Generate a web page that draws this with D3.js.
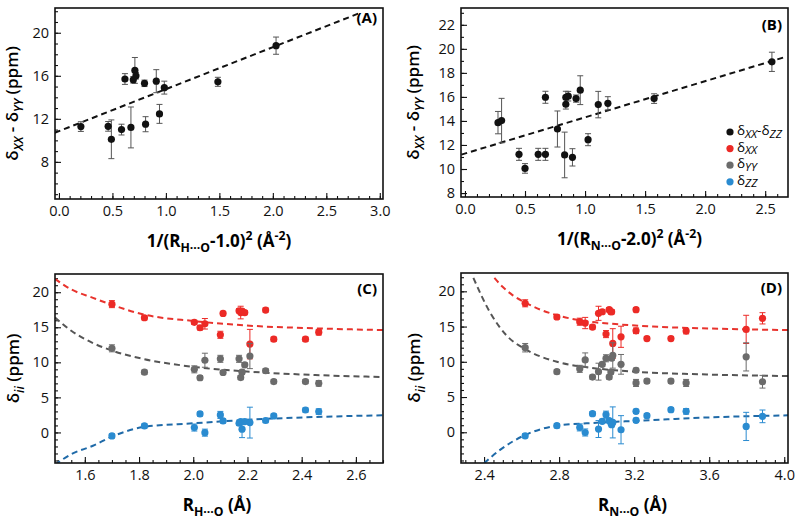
<!DOCTYPE html>
<html>
<head>
<meta charset="utf-8">
<script src="https://cdn.jsdelivr.net/npm/d3@7"></script>
<style>
  body { margin: 0; background: #fff; }
  svg { font-family: "Open Sans", sans-serif; }
</style>
</head>
<body>
<div id="chart"></div>
<script>
// ---- panel A : dXX - dYY vs 1/(R(H..O)-1.0)^2
const aX   = [0.205, 0.46, 0.49, 0.585, 0.617, 0.673, 0.695, 0.71, 0.72, 0.80, 0.81, 0.91, 0.94, 0.985, 1.486, 2.03];
const aY   = [11.28, 11.3, 10.1, 11.0, 15.7, 11.2, 15.63, 16.5, 16.0, 15.3, 11.5, 15.5, 12.46, 14.9, 15.44, 18.8];
const aErr = [0.45, 0.45, 1.8, 0.5, 0.5, 1.9, 0.3, 1.2, 0.3, 0.3, 0.7, 1.07, 0.88, 0.6, 0.42, 0.8];
const aFitX = [-0.04, 2.83];
const aFitY = [10.7, 21.9];

// ---- panel B : dXX - dYY vs 1/(R(N..O)-2.0)^2
const bX   = [0.275, 0.305, 0.45, 0.50, 0.61, 0.67, 0.67, 0.77, 0.83, 0.84, 0.84, 0.86, 0.895, 0.925, 0.96, 1.025, 1.11, 1.19, 1.575, 2.556];
const bY   = [13.86, 14.03, 11.22, 10.05, 11.22, 11.22, 15.97, 13.33, 11.17, 15.39, 15.97, 16.06, 10.97, 15.86, 16.56, 12.44, 15.36, 15.47, 15.86, 18.92];
const bErr = [0.93, 1.85, 0.5, 0.4, 0.5, 0.5, 0.5, 1.5, 1.9, 0.4, 0.5, 0.4, 0.72, 0.3, 1.2, 0.5, 1.1, 0.55, 0.4, 0.8];
const bFitX = [-0.03, 2.66];
const bFitY = [11.2, 19.3];

// ---- panel C : dii vs R(H..O)
const cX       = [1.70, 1.82, 2.004, 2.025, 2.043, 2.10, 2.11, 2.169, 2.175, 2.18, 2.19, 2.209, 2.267, 2.297, 2.414, 2.463];
const cXX      = [18.3, 16.36, 15.7, 14.93, 15.5, 13.93, 16.97, 17.36, 17.1, 17.3, 17.1, 12.6, 17.46, 13.3, 13.3, 14.3];
const cXXErr   = [0.5, 0.3, 0.3, 0.3, 0.75, 0.5, 0.3, 0.3, 0.9, 0.3, 0.3, 2.1, 0.3, 0.3, 0.3, 0.4];
const cYY      = [12.0, 8.6, 9.0, 7.8, 10.3, 10.5, 8.55, 10.5, 7.83, 8.6, 9.64, 10.9, 8.8, 7.26, 7.26, 7.0];
const cYYErr   = [0.5, 0.3, 0.5, 0.3, 1.0, 0.5, 0.3, 0.5, 0.3, 0.3, 0.3, 1.8, 0.3, 0.3, 0.3, 0.4];
const cZZ      = [-0.5, 0.93, 0.7, 2.64, -0.03, 2.5, 1.64, 1.31, 1.55, 0.46, 1.55, 1.4, 1.7, 2.36, 3.2, 2.97];
const cZZErr   = [0.3, 0.3, 0.5, 0.3, 0.5, 0.5, 0.3, 0.3, 0.3, 1.2, 0.3, 2.2, 0.3, 0.3, 0.3, 0.4];
const cFitX    = [1.49, 1.55, 1.63, 1.70, 1.82, 2.0, 2.22, 2.45, 2.70];
const cXXFit   = [21.9, 20.4, 19.2, 18.2, 16.8, 15.9, 15.2, 14.85, 14.6];
const cYYFit   = [16.4, 14.5, 12.75, 11.68, 10.45, 9.36, 8.63, 8.19, 7.9];
const cZZFit   = [-4.6, -3.1, -1.9, -0.6, 0.8, 1.3, 1.85, 2.2, 2.45];

// ---- panel D : dii vs R(N..O)
const dX       = [2.619, 2.788, 2.91, 2.939, 2.978, 3.01, 3.03, 3.05, 3.067, 3.076, 3.08, 3.086, 3.13, 3.21, 3.21, 3.268, 3.396, 3.477, 3.797, 3.884];
const dXX      = [18.3, 16.36, 15.69, 15.5, 14.93, 16.88, 17.1, 13.93, 17.4, 17.1, 17.1, 12.6, 13.55, 17.4, 14.4, 13.3, 13.3, 14.36, 14.6, 16.17];
const dXXErr   = [0.5, 0.3, 0.5, 0.8, 0.3, 1.0, 0.3, 0.5, 0.3, 0.3, 0.3, 2.1, 1.5, 0.3, 0.4, 0.3, 0.3, 0.4, 2.0, 0.8];
const dYY      = [12.0, 8.6, 9.0, 10.26, 7.83, 8.6, 9.64, 10.5, 7.83, 8.55, 10.5, 10.9, 9.64, 8.8, 7.0, 7.26, 7.26, 7.0, 10.7, 7.17];
const dYYErr   = [0.6, 0.3, 0.5, 1.0, 0.3, 1.2, 0.3, 0.5, 0.3, 0.3, 0.3, 1.8, 1.4, 0.3, 0.5, 0.3, 0.3, 0.5, 2.0, 0.9];
const dZZ      = [-0.5, 0.93, 0.69, -0.03, 2.64, 0.46, 1.55, 2.5, 1.64, 1.31, 1.07, 1.4, 0.36, 1.7, 2.97, 2.36, 3.2, 2.97, 0.83, 2.26];
const dZZErr   = [0.3, 0.3, 0.5, 0.5, 0.3, 1.2, 0.3, 0.5, 0.3, 0.3, 0.3, 2.2, 2.0, 0.3, 0.3, 0.3, 0.3, 0.4, 2.0, 0.9];
const dXXFitX  = [2.455, 2.50, 2.55, 2.62, 2.70, 2.79, 2.93, 3.10, 3.30, 3.60, 4.02];
const dXXFit   = [21.9, 20.6, 19.5, 18.4, 17.4, 16.6, 15.8, 15.35, 15.0, 14.73, 14.5];
const dYYFitX  = [2.343, 2.432, 2.521, 2.619, 2.788, 2.965, 3.232, 3.588, 4.02];
const dYYFit   = [21.9, 17.0, 13.7, 11.8, 10.0, 9.17, 8.55, 8.2, 7.97];
const dZZFitX  = [2.40, 2.485, 2.61, 2.788, 3.0, 3.232, 3.588, 4.02];
const dZZFit   = [-4.4, -2.5, -0.5, 0.93, 1.35, 1.64, 2.1, 2.4];

const legendLabels = ["XX-ZZ", "XX", "YY", "ZZ"];

const RED = "#ec2a26", GRAY = "#6b6b6b", BLUE = "#2a8bd0";
const RED_FIT = "#e8332d", GRAY_FIT = "#555555", BLUE_FIT = "#1f6aa8";

const svg = d3.select("#chart").append("svg")
    .attr("width", 800)
    .attr("height", 525);

// writes text made of parts: {t, s:'sub'|'sup', i:italic}
function richText(sel, parts, subShift = 5, subSize = "0.72em") {
    let shift = 0;
    parts.forEach(p => {
        const target = p.s === "sub" ? subShift : p.s === "sup" ? -7 : 0;
        const ts = sel.append("tspan").text(p.t).attr("dy", target - shift);
        shift = target;
        if (p.s) ts.attr("font-size", subSize);
        if (p.i) ts.attr("font-style", "italic");
    });
}

let clipId = 0;
function panel(o) {
    const x = d3.scaleLinear().domain(o.xDom).range([o.l, o.r]);
    const y = d3.scaleLinear().domain(o.yDom).range([o.b, o.t]);
    const g = svg.append("g");

    const cid = "clip" + (clipId++);
    g.append("clipPath").attr("id", cid)
        .append("rect").attr("x", o.l).attr("y", o.t)
        .attr("width", o.r - o.l).attr("height", o.b - o.t);

    // axes, ticks pointing inward
    const xMinor = g.append("g").attr("transform", `translate(0,${o.b})`)
        .call(d3.axisBottom(x).tickValues(o.xMinor).tickSizeInner(-3).tickSizeOuter(0).tickFormat(""));
    const yMinor = g.append("g").attr("transform", `translate(${o.l},0)`)
        .call(d3.axisLeft(y).tickValues(o.yMinor).tickSizeInner(-3).tickSizeOuter(0).tickFormat(""));
    const xAx = g.append("g").attr("transform", `translate(0,${o.b})`)
        .call(d3.axisBottom(x).tickValues(o.xTicks).tickSizeInner(-6).tickSizeOuter(0)
            .tickPadding(7).tickFormat(d3.format(".1f")));
    const yAx = g.append("g").attr("transform", `translate(${o.l},0)`)
        .call(d3.axisLeft(y).tickValues(o.yTicks).tickSizeInner(-6).tickSizeOuter(0)
            .tickPadding(6).tickFormat(d3.format("d")));
    [xMinor, yMinor, xAx, yAx].forEach(a => {
        a.select(".domain").remove();
        a.selectAll("line").attr("stroke", "#111").attr("stroke-width", 1.1);
        a.selectAll("text").attr("font-size", 14.5).attr("fill", "#111")
            .attr("font-family", "'Open Sans', sans-serif");
    });

    const plot = g.append("g").attr("clip-path", `url(#${cid})`);

    // dashed fits
    o.fits.forEach(f => {
        const pts = f.xs.map((v, i) => [v, f.ys[i]]);
        plot.append("path")
            .attr("d", d3.line().x(d => x(d[0])).y(d => y(d[1])).curve(d3.curveMonotoneX)(pts))
            .attr("fill", "none")
            .attr("stroke", f.color)
            .attr("stroke-width", 2)
            .attr("stroke-dasharray", "6,4");
    });

    // error bars + points
    o.series.forEach(s => {
        const eg = plot.append("g").attr("stroke", s.errColor).attr("stroke-width", 1);
        s.xs.forEach((v, i) => {
            const cx = x(v), y1 = y(s.ys[i] - s.errs[i]), y2 = y(s.ys[i] + s.errs[i]);
            eg.append("line").attr("x1", cx).attr("x2", cx).attr("y1", y1).attr("y2", y2);
            eg.append("line").attr("x1", cx - 3).attr("x2", cx + 3).attr("y1", y1).attr("y2", y1);
            eg.append("line").attr("x1", cx - 3).attr("x2", cx + 3).attr("y1", y2).attr("y2", y2);
        });
        plot.append("g").selectAll("circle")
            .data(s.xs.map((v, i) => [v, s.ys[i]]))
            .enter()
            .append("circle")
            .attr("cx", d => x(d[0]))
            .attr("cy", d => y(d[1]))
            .attr("r", 3.6)
            .attr("fill", s.color);
    });

    // frame
    g.append("rect").attr("x", o.l).attr("y", o.t)
        .attr("width", o.r - o.l).attr("height", o.b - o.t)
        .attr("fill", "none").attr("stroke", "#111").attr("stroke-width", 1.6);

    // panel tag
    g.append("text").attr("x", o.r - 6).attr("y", o.t + o.tagDy)
        .attr("text-anchor", "end").attr("font-weight", "bold").attr("font-size", 15)
        .text(o.tag);

    // x title
    const xt = g.append("text").attr("x", (o.l + o.r) / 2 + o.xTitleDx).attr("y", o.b + 48)
        .attr("text-anchor", "middle").attr("font-weight", "bold").attr("font-size", 17);
    richText(xt, o.xTitle);

    // y title
    const yt = g.append("text")
        .attr("transform", `translate(${o.l - o.yTitleOff},${(o.t + o.b) / 2}) rotate(-90)`)
        .attr("text-anchor", "middle").attr("font-weight", 600).attr("font-size", 17);
    richText(yt, o.yTitle);

    return {x, y, g};
}

const yTitleAB = [{t: "δ"}, {t: "XX", s: "sub", i: true}, {t: " - δ"}, {t: "YY", s: "sub", i: true}, {t: " (ppm)"}];
const yTitleCD = [{t: "δ"}, {t: "ii", s: "sub", i: true}, {t: " (ppm)"}];

panel({
    l: 55, r: 383, t: 8, b: 199,
    xDom: [-0.037, 3.03], yDom: [4.55, 22.3],
    xTicks: d3.range(0, 3.01, 0.5), xMinor: d3.range(0, 3.01, 0.1),
    yTicks: [8, 12, 16, 20], yMinor: d3.range(5, 22.1, 1),
    fits: [{xs: aFitX, ys: aFitY, color: "#111"}],
    series: [{xs: aX, ys: aY, errs: aErr, color: "#111", errColor: "#555"}],
    tag: "(A)", tagDy: 15,
    xTitleDx: 0, yTitleOff: 37,
    xTitle: [{t: "1/(R"}, {t: "H···O", s: "sub"}, {t: "-1.0)"}, {t: "2", s: "sup"}, {t: " (Å"}, {t: "-2", s: "sup"}, {t: ")"}],
    yTitle: yTitleAB
});

panel({
    l: 461, r: 788, t: 8, b: 197,
    xDom: [-0.033, 2.69], yDom: [7.67, 23.4],
    xTicks: d3.range(0, 2.51, 0.5), xMinor: d3.range(0, 2.61, 0.1),
    yTicks: d3.range(8, 22.1, 2), yMinor: d3.range(8, 23.1, 1),
    fits: [{xs: bFitX, ys: bFitY, color: "#111"}],
    series: [{xs: bX, ys: bY, errs: bErr, color: "#111", errColor: "#555"}],
    tag: "(B)", tagDy: 22,
    xTitleDx: 5, yTitleOff: 42,
    xTitle: [{t: "1/(R"}, {t: "N···O", s: "sub"}, {t: "-2.0)"}, {t: "2", s: "sup"}, {t: " (Å"}, {t: "-2", s: "sup"}, {t: ")"}],
    yTitle: yTitleAB
});

panel({
    l: 55, r: 383, t: 274, b: 463,
    xDom: [1.49, 2.70], yDom: [-4.36, 22.6],
    xTicks: d3.range(1.6, 2.61, 0.2), xMinor: d3.range(1.5, 2.701, 0.05),
    yTicks: [0, 5, 10, 15, 20], yMinor: d3.range(-4, 22.1, 1),
    fits: [
        {xs: cFitX, ys: cXXFit, color: RED_FIT},
        {xs: cFitX, ys: cYYFit, color: GRAY_FIT},
        {xs: cFitX, ys: cZZFit, color: BLUE_FIT}
    ],
    series: [
        {xs: cX, ys: cXX, errs: cXXErr, color: RED, errColor: RED},
        {xs: cX, ys: cYY, errs: cYYErr, color: GRAY, errColor: GRAY},
        {xs: cX, ys: cZZ, errs: cZZErr, color: BLUE, errColor: BLUE}
    ],
    tag: "(C)", tagDy: 20,
    xTitleDx: -2, yTitleOff: 36,
    xTitle: [{t: "R"}, {t: "H···O", s: "sub"}, {t: " (Å)"}],
    yTitle: yTitleCD
});

panel({
    l: 461, r: 788, t: 273, b: 463,
    xDom: [2.277, 4.02], yDom: [-4.36, 22.6],
    xTicks: d3.range(2.4, 4.01, 0.4), xMinor: d3.range(2.3, 4.01, 0.05),
    yTicks: [0, 5, 10, 15, 20], yMinor: d3.range(-4, 22.1, 1),
    fits: [
        {xs: dXXFitX, ys: dXXFit, color: RED_FIT},
        {xs: dYYFitX, ys: dYYFit, color: GRAY_FIT},
        {xs: dZZFitX, ys: dZZFit, color: BLUE_FIT}
    ],
    series: [
        {xs: dX, ys: dXX, errs: dXXErr, color: RED, errColor: RED},
        {xs: dX, ys: dYY, errs: dYYErr, color: GRAY, errColor: GRAY},
        {xs: dX, ys: dZZ, errs: dZZErr, color: BLUE, errColor: BLUE}
    ],
    tag: "(D)", tagDy: 20,
    xTitleDx: 8, yTitleOff: 41,
    xTitle: [{t: "R"}, {t: "N···O", s: "sub"}, {t: " (Å)"}],
    yTitle: yTitleCD
});

// legend (inside panel B)
const legendColors = ["#111", RED, GRAY, BLUE];
const leg = svg.append("g");
legendLabels.forEach((lab, i) => {
    const cy = 132 + i * 16.6;
    leg.append("circle").attr("cx", 730).attr("cy", cy).attr("r", 3.6).attr("fill", legendColors[i]);
    const t = leg.append("text").attr("x", 737).attr("y", cy + 3).attr("font-size", 13.5);
    const parts = lab.split("-");
    const arr = [{t: "δ"}, {t: parts[0], s: "sub", i: true}];
    if (parts[1]) arr.push({t: "-δ"}, {t: parts[1], s: "sub", i: true});
    richText(t, arr, 2.5, "0.85em");
});
</script>
</body>
</html>
